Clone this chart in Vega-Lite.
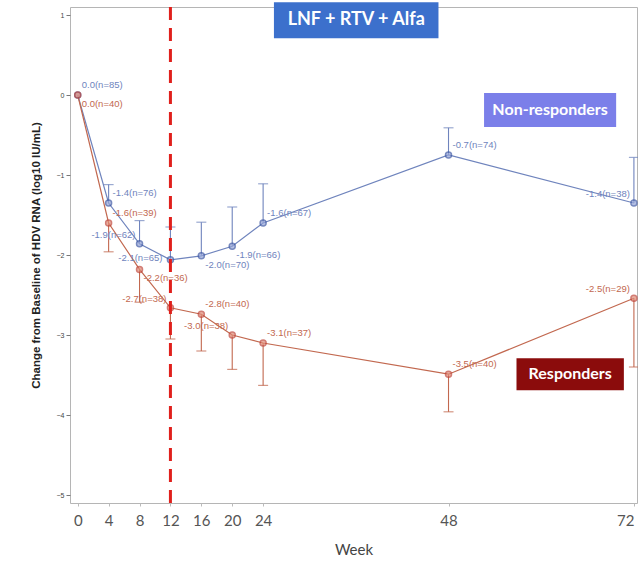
{
  "$schema": "https://vega.github.io/schema/vega-lite/v6.json",
  "autosize": "none",
  "width": 567,
  "height": 496,
  "padding": {"left": 70, "top": 7, "right": 1, "bottom": 58},
  "background": "white",
  "config": {
    "view": {"stroke": "#b5b5b5", "strokeWidth": 1},
    "font": "Liberation Sans"
  },
  "data": {
    "values": [
      {"week": 0, "group": "Non-responders", "mean": 0.0, "err": null, "label": "0.0(n=85)"},
      {"week": 4, "group": "Non-responders", "mean": -1.35, "err": -1.12, "label": "-1.4(n=76)"},
      {"week": 8, "group": "Non-responders", "mean": -1.86, "err": -1.57, "label": "-1.9(n=62)"},
      {"week": 12, "group": "Non-responders", "mean": -2.06, "err": -1.65, "label": "-2.1(n=65)"},
      {"week": 16, "group": "Non-responders", "mean": -2.01, "err": -1.59, "label": "-2.0(n=70)"},
      {"week": 20, "group": "Non-responders", "mean": -1.89, "err": -1.4, "label": "-1.9(n=66)"},
      {"week": 24, "group": "Non-responders", "mean": -1.6, "err": -1.11, "label": "-1.6(n=67)"},
      {"week": 48, "group": "Non-responders", "mean": -0.75, "err": -0.41, "label": "-0.7(n=74)"},
      {"week": 72, "group": "Non-responders", "mean": -1.35, "err": -0.78, "label": "-1.4(n=38)"},
      {"week": 0, "group": "Responders", "mean": 0.0, "err": null, "label": "0.0(n=40)"},
      {"week": 4, "group": "Responders", "mean": -1.6, "err": -1.96, "label": "-1.6(n=39)"},
      {"week": 8, "group": "Responders", "mean": -2.18, "err": -2.59, "label": "-2.2(n=36)"},
      {"week": 12, "group": "Responders", "mean": -2.66, "err": -3.05, "label": "-2.7(n=38)"},
      {"week": 16, "group": "Responders", "mean": -2.74, "err": -3.2, "label": "-2.8(n=40)"},
      {"week": 20, "group": "Responders", "mean": -3.0, "err": -3.43, "label": "-3.0(n=38)"},
      {"week": 24, "group": "Responders", "mean": -3.1, "err": -3.63, "label": "-3.1(n=37)"},
      {"week": 48, "group": "Responders", "mean": -3.49, "err": -3.96, "label": "-3.5(n=40)"},
      {"week": 72, "group": "Responders", "mean": -2.54, "err": -3.4, "label": "-2.5(n=29)"}
    ]
  },
  "encoding": {
    "x": {
      "field": "week", "type": "quantitative",
      "scale": {"domain": [-1, 72.4], "nice": false, "zero": false},
      "axis": {
        "values": [0, 4, 8, 12, 16, 20, 24, 48, 72],
        "title": "Week", "grid": false, "domain": false,
        "tickSize": 3, "tickColor": "#bbb",
        "labelFont": "Lato", "labelFontSize": 15, "labelColor": "#555",
        "labelPadding": 7, "labelFlush": 5,
        "titleFont": "Lato", "titleFontSize": 15, "titleFontWeight": "normal",
        "titleColor": "#444", "titlePadding": 14
      }
    },
    "y": {
      "field": "mean", "type": "quantitative",
      "scale": {"domain": [-5.1, 1.1], "nice": false, "zero": false},
      "axis": {
        "values": [-5, -4, -3, -2, -1, 0, 1],
        "title": "Change from Baseline of HDV RNA (log10 IU/mL)",
        "grid": false, "domain": false,
        "tickSize": 4, "tickColor": "#777",
        "labelFontSize": 7, "labelColor": "#444", "labelPadding": 2,
        "titleFontSize": 11.5, "titleFontWeight": "bold", "titleColor": "#222",
        "titlePadding": 15
      }
    }
  },
  "layer": [
    {
      "transform": [{"filter": "datum.week == 0 && datum.group == 'Responders'"}],
      "mark": {"type": "rect", "color": "#3c70cc"},
      "encoding": {
        "x": {"datum": 25.4, "type": "quantitative"},
        "x2": {"datum": 46.7},
        "y": {"datum": 1.16, "type": "quantitative"},
        "y2": {"datum": 0.71}
      }
    },
    {
      "transform": [{"filter": "datum.week == 0 && datum.group == 'Responders'"}],
      "mark": {"type": "text", "text": "LNF + RTV + Alfa", "font": "Lato", "fontWeight": "bold", "fontSize": 18, "color": "white"},
      "encoding": {
        "x": {"datum": 36.05, "type": "quantitative"},
        "y": {"datum": 0.935, "type": "quantitative"}
      }
    },
    {
      "transform": [{"filter": "datum.week == 0 && datum.group == 'Responders'"}],
      "mark": {"type": "rect", "color": "#7b7fe9"},
      "encoding": {
        "x": {"datum": 52.6, "type": "quantitative"},
        "x2": {"datum": 69.7},
        "y": {"datum": 0.025, "type": "quantitative"},
        "y2": {"datum": -0.4}
      }
    },
    {
      "transform": [{"filter": "datum.week == 0 && datum.group == 'Responders'"}],
      "mark": {"type": "text", "text": "Non-responders", "font": "Lato", "fontWeight": "bold", "fontSize": 16, "color": "white"},
      "encoding": {
        "x": {"datum": 61.15, "type": "quantitative"},
        "y": {"datum": -0.19, "type": "quantitative"}
      }
    },
    {
      "transform": [{"filter": "datum.week == 0 && datum.group == 'Responders'"}],
      "mark": {"type": "rect", "color": "#8b0c0c"},
      "encoding": {
        "x": {"datum": 56.8, "type": "quantitative"},
        "x2": {"datum": 70.7},
        "y": {"datum": -3.29, "type": "quantitative"},
        "y2": {"datum": -3.69}
      }
    },
    {
      "transform": [{"filter": "datum.week == 0 && datum.group == 'Responders'"}],
      "mark": {"type": "text", "text": "Responders", "font": "Lato", "fontWeight": "bold", "fontSize": 16, "color": "white"},
      "encoding": {
        "x": {"datum": 63.75, "type": "quantitative"},
        "y": {"datum": -3.49, "type": "quantitative"}
      }
    },
    {
      "encoding": {
        "color": {
          "field": "group", "type": "nominal",
          "scale": {"domain": ["Non-responders", "Responders"], "range": ["#6f84bd", "#c2684f"]},
          "legend": null
        }
      },
      "layer": [
        {
          "transform": [{"filter": "datum.err != null"}],
          "mark": {"type": "rule", "strokeWidth": 1.1},
          "encoding": {"y2": {"field": "err"}}
        },
        {
          "transform": [{"filter": "datum.err != null"}],
          "mark": {"type": "tick", "orient": "horizontal", "size": 10, "thickness": 1.2},
          "encoding": {"y": {"field": "err", "type": "quantitative"}}
        },
        {
          "mark": {"type": "line", "strokeWidth": 1.2},
          "encoding": {"detail": {"field": "group"}}
        },
        {
          "mark": {"type": "point", "shape": "circle", "size": 36, "filled": false, "strokeWidth": 1.5},
          "encoding": {
            "stroke": {
              "field": "group", "type": "nominal",
              "scale": {"domain": ["Non-responders", "Responders"], "range": ["#3e58a4", "#c0473c"]},
              "legend": null
            },
            "fill": {
              "field": "group", "type": "nominal",
              "scale": {"domain": ["Non-responders", "Responders"], "range": ["#97a6d8", "#e08c78"]},
              "legend": null
            },
            "fillOpacity": {"value": 1}
          }
        },
        {
          "transform": [{"filter": "!((datum.group == 'Non-responders' && (datum.week == 8 || datum.week == 12 || datum.week == 72 || datum.week == 16 || datum.week == 20)) || (datum.group == 'Responders' && (datum.week == 12 || datum.week == 20 || datum.week == 72 || datum.week == 0 || datum.week == 8)))"}],
          "mark": {"type": "text", "align": "left", "dx": 4, "dy": -10, "fontSize": 9.5},
          "encoding": {"text": {"field": "label"}}
        },
        {
          "transform": [{"filter": "(datum.group == 'Non-responders' && (datum.week == 8 || datum.week == 72)) || (datum.group == 'Responders' && (datum.week == 12 || datum.week == 20 || datum.week == 72))"}],
          "mark": {"type": "text", "align": "right", "dx": -4, "dy": -9, "fontSize": 9.5},
          "encoding": {"text": {"field": "label"}}
        },
        {
          "transform": [{"filter": "datum.group == 'Non-responders' && datum.week == 12"}],
          "mark": {"type": "text", "align": "right", "dx": -8, "dy": -2, "fontSize": 9.5},
          "encoding": {"text": {"field": "label"}}
        },
        {
          "transform": [{"filter": "(datum.group == 'Non-responders' && (datum.week == 16 || datum.week == 20)) || (datum.group == 'Responders' && (datum.week == 0 || datum.week == 8))"}],
          "mark": {"type": "text", "align": "left", "dx": 4, "dy": 9, "fontSize": 9.5},
          "encoding": {"text": {"field": "label"}}
        }
      ]
    },
    {
      "transform": [{"filter": "datum.week == 0 && datum.group == 'Responders'"}],
      "mark": {"type": "rule", "color": "#e0201c", "strokeWidth": 3, "strokeDash": [13, 8]},
      "encoding": {
        "x": {"datum": 12, "type": "quantitative"},
        "y": {"datum": 1.1, "type": "quantitative"},
        "y2": {"datum": -5.1}
      }
    }
  ]
}
